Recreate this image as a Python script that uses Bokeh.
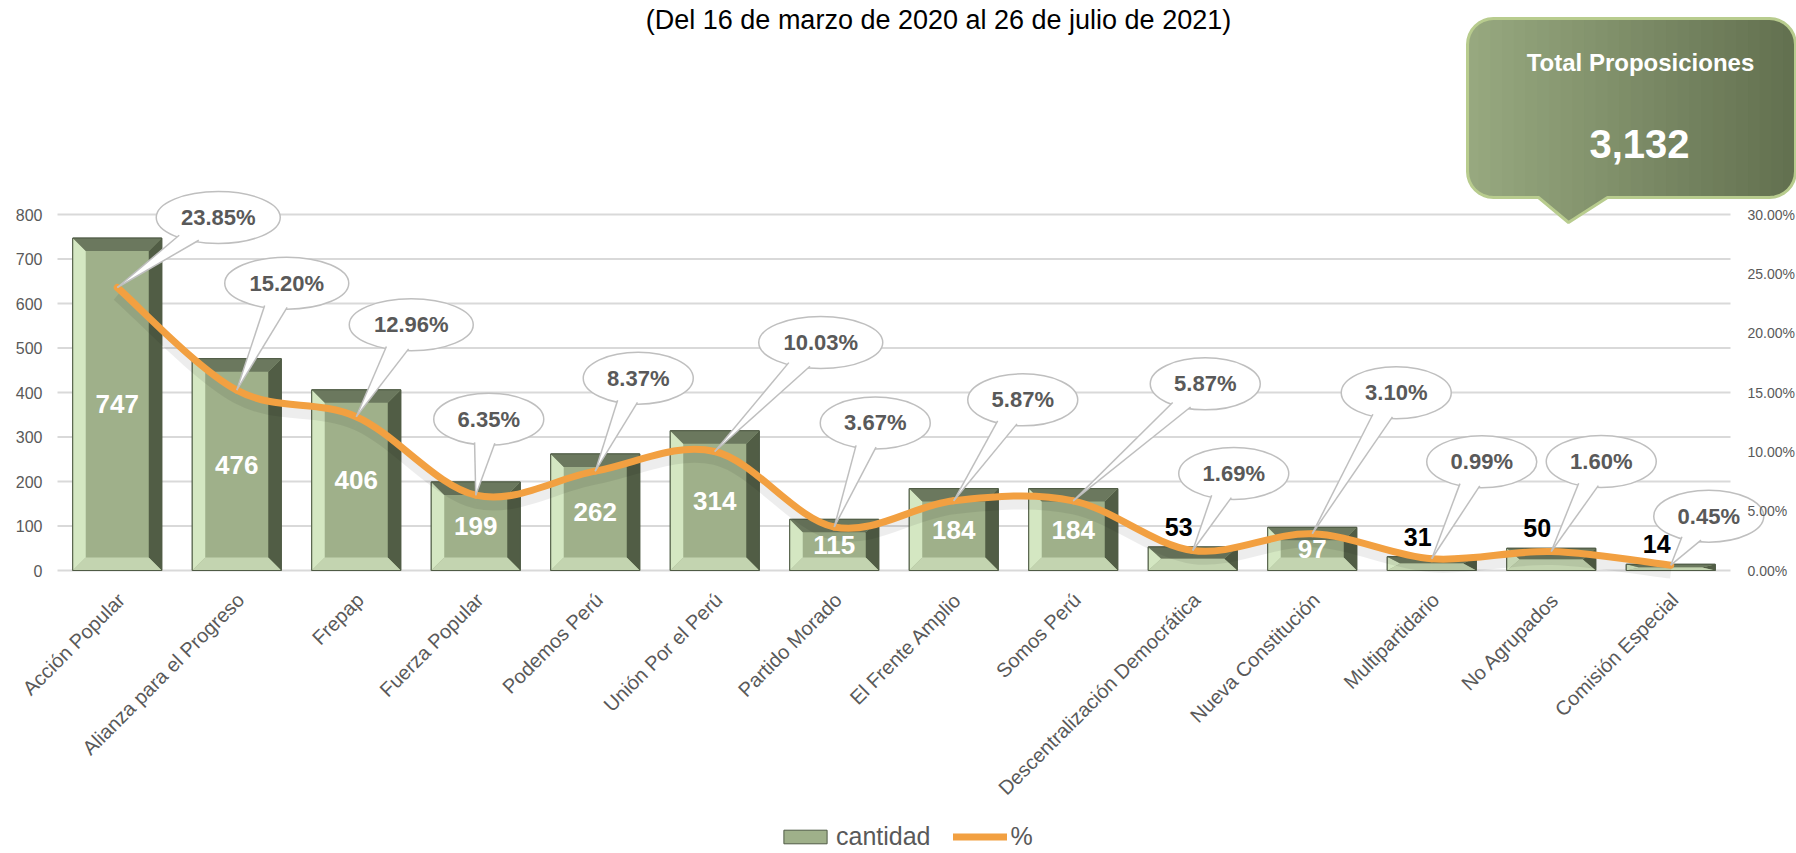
import math
from bokeh.plotting import figure
from bokeh.models import Range1d, Legend, LegendItem
from bokeh.core.properties import value
from bokeh.embed import file_html
from bokeh.resources import INLINE

# ---------------- data ----------------
categories = ["Acción Popular", "Alianza para el Progreso", "Frepap", "Fuerza Popular",
              "Podemos Perú", "Unión Por el Perú", "Partido Morado", "El Frente Amplio",
              "Somos Perú", "Descentralización Democrática", "Nueva Constitución",
              "Multipartidario", "No Agrupados", "Comisión Especial"]
cantidad = [747, 476, 406, 199, 262, 314, 115, 184, 184, 53, 97, 31, 50, 14]
porcentaje = [23.85, 15.20, 12.96, 6.35, 8.37, 10.03, 3.67, 5.87, 5.87, 1.69, 3.10, 0.99, 1.60, 0.45]
left_ticks = [0, 100, 200, 300, 400, 500, 600, 700, 800]
right_ticks = [0.0, 0.05, 0.10, 0.15, 0.20, 0.25, 0.30]
titulo = "(Del 16 de marzo de 2020 al 26 de julio de 2021)"
total_titulo = "Total Proposiciones"
total = sum(cantidad)

# ---------------- layout / style ----------------
callout_dx = [101, 50, 55, 13, 43, 106, 41, 69, 132, 41, 84, 50, 50, 38]   # px
callout_dy = [70, 107, 92, 76, 93, 109, 104, 101, 117, 77, 141, 97, 90, 49]  # px

FONT = "Liberation Sans"
GREY = "#595959"

W, H = 1796, 853
X0 = 57           # pixel column where the category axis starts
Y0 = 570          # pixel row of the zero line
n = len(categories)
px_x = 1673 / n
px_y = (Y0 - 214) / 800.0
k_pct = 0.30 / 800.0
px_pct = px_y / k_pct

def fx2d(fx):
    return -0.5 + (fx - X0) / px_x

def fy2d(fy):
    return (Y0 - fy) / px_y

p = figure(width=W, height=H, x_range=Range1d(fx2d(0), fx2d(W)),
           y_range=Range1d(fy2d(H), fy2d(0)),
           output_backend="svg", toolbar_location=None,
           x_axis_location=None, y_axis_location=None,
           min_border_left=0, min_border_right=0, min_border_bottom=0, min_border_top=0)
p.outline_line_color = None
p.background_fill_color = "white"
p.border_fill_color = "white"
p.extra_y_ranges = {"pct": Range1d(fy2d(H) * k_pct, fy2d(0) * k_pct)}
p.xgrid.grid_line_color = None
p.ygrid.grid_line_color = None

# gridlines over the category span
p.segment(x0=[-0.5] * len(left_ticks), x1=[n - 0.5] * len(left_ticks), y0=left_ticks,
          y1=left_ticks, line_color="#d9d9d9", line_width=2)

# primary scale labels
p.text(x=[fx2d(42)] * len(left_ticks), y=left_ticks, text=[str(t) for t in left_ticks],
       text_font=value(FONT), text_font_size="16px", text_color=GREY,
       text_align="right", text_baseline="middle")

# category labels (rotated)
p.text(x=list(range(n)), y=[0] * n, text=categories, angle=math.pi / 4,
       x_offset=4, y_offset=26, text_font=value(FONT), text_font_size="20px",
       text_color=GREY, text_align="right", text_baseline="middle")

# ---------------- bars with bevel ----------------
half = 0.745 / 2
bx = 13 / px_x
lefts = [i - half for i in range(n)]
rights = [i + half for i in range(n)]
bys = [min(13 / px_y, v / 2) for v in cantidad]

bars = p.quad(left=lefts, right=rights, bottom=0, top=cantidad,
              fill_color="#9fb08a", line_color="#4f5b45", line_width=1)

def bevel(kind):
    xs, ys = [], []
    for l, r, v, by in zip(lefts, rights, cantidad, bys):
        if kind == "left":
            xs.append([l, l, l + bx, l + bx]); ys.append([0, v, v - by, by])
        elif kind == "right":
            xs.append([r, r, r - bx, r - bx]); ys.append([0, v, v - by, by])
        elif kind == "top":
            xs.append([l, r, r - bx, l + bx]); ys.append([v, v, v - by, v - by])
        else:
            xs.append([l, r, r - bx, l + bx]); ys.append([0, 0, by, by])
    return xs, ys

for kind, col in [("left", "#d4e7c2"), ("right", "#515d45"), ("top", "#6b785e"),
                  ("bottom", "#c3d4b0")]:
    bxs, bys_ = bevel(kind)
    p.patches(xs=bxs, ys=bys_, fill_color=col, line_color=None)
p.quad(left=lefts, right=rights, bottom=0, top=cantidad, fill_color=None,
       line_color="#4f5b45", line_width=1)

# ---------------- smooth % line ----------------
pts = [(i, v / 100.0) for i, v in enumerate(porcentaje)]
x0, y0, x1, y1, cx0, cy0, cx1, cy1 = [], [], [], [], [], [], [], []
for i in range(n - 1):
    pa = pts[i - 1] if i > 0 else pts[i]
    pb = pts[i]
    pc = pts[i + 1]
    pd = pts[i + 2] if i + 2 < n else pts[i + 1]
    x0.append(pb[0]); y0.append(pb[1]); x1.append(pc[0]); y1.append(pc[1])
    cx0.append(pb[0] + (pc[0] - pa[0]) / 6); cy0.append(pb[1] + (pc[1] - pa[1]) / 6)
    cx1.append(pc[0] - (pd[0] - pb[0]) / 6); cy1.append(pc[1] - (pd[1] - pb[1]) / 6)

sh = 8 / px_pct
p.bezier(x0=x0, y0=[v - sh for v in y0], x1=x1, y1=[v - sh for v in y1],
         cx0=cx0, cy0=[v - sh for v in cy0], cx1=cx1, cy1=[v - sh for v in cy1],
         line_color="#000000", line_alpha=0.07, line_width=11, y_range_name="pct")
line = p.bezier(x0=x0, y0=y0, x1=x1, y1=y1, cx0=cx0, cy0=cy0, cx1=cx1, cy1=cy1,
                line_color="#f2a041", line_width=7, line_cap="round", y_range_name="pct")

# ---------------- bar value labels ----------------
inside = [i for i, v in enumerate(cantidad) if v >= 60]
outside = [i for i, v in enumerate(cantidad) if v < 60]
p.text(x=inside, y=[cantidad[i] / 2 for i in inside],
       text=[str(cantidad[i]) for i in inside], text_color="white",
       text_font=value(FONT), text_font_style="bold", text_font_size="26px",
       text_align="center", text_baseline="middle")
p.text(x=outside, y=[cantidad[i] for i in outside],
       text=[str(cantidad[i]) for i in outside], text_color="black",
       x_offset=-14, y_offset=-11,
       text_font=value(FONT), text_font_style="bold", text_font_size="25px",
       text_align="center", text_baseline="bottom")

# ---------------- callouts ----------------
plabels = [f"{v:.2f}%" for v in porcentaje]
BH = 52
ecx, ecy, ews, txs, tys, sx0, sy0, sx1, sy1 = [], [], [], [], [], [], [], [], []
for i in range(n):
    tx, ty = pts[i]
    dx, dy = callout_dx[i], callout_dy[i]
    bw = 40 + 14 * len(plabels[i])
    a, b = bw / 2, BH / 2
    cx, cy = tx + dx / px_x, ty + dy / px_pct
    ecx.append(cx); ecy.append(cy); ews.append(bw)
    th = math.atan2(-dy / b, -dx / a)
    tri_x, tri_y = [tx], [ty]
    for s in (-0.2, 0.2):
        bxp = cx + a * math.cos(th + s) * 0.93 / px_x
        byp = cy + b * math.sin(th + s) * 0.93 / px_pct
        tri_x.append(bxp); tri_y.append(byp)
        sx0.append(tx); sy0.append(ty); sx1.append(bxp); sy1.append(byp)
    txs.append(tri_x); tys.append(tri_y)

p.ellipse(x=ecx, y=ecy, width=ews, height=BH, width_units="screen", height_units="screen",
          fill_color="white", line_color="#bfbfbf", line_width=1.5, y_range_name="pct")
p.patches(xs=txs, ys=tys, fill_color="white", line_color=None, y_range_name="pct")
p.segment(x0=sx0, y0=sy0, x1=sx1, y1=sy1, line_color="#bfbfbf", line_width=1.5,
          y_range_name="pct")
p.text(x=ecx, y=ecy, text=plabels, text_color=GREY,
       text_font=value(FONT), text_font_style="bold", text_font_size="22px",
       text_align="center", text_baseline="middle", y_range_name="pct")

# secondary (percent) scale labels, drawn above the callouts
p.text(x=[fx2d(1747)] * len(right_ticks), y=right_ticks,
       text=[f"{t * 100:.2f}%" for t in right_ticks], y_range_name="pct",
       text_font=value(FONT), text_font_size="14px", text_color=GREY,
       text_align="left", text_baseline="middle")

# ---------------- title ----------------
p.text(x=[fx2d(938)], y=[fy2d(19)], text=[titulo], text_color="black",
       text_font=value(FONT), text_font_size="27px", text_align="center",
       text_baseline="alphabetic")

# ---------------- total box (horizontal gradient) ----------------
bl_, br_, bt_, bb_ = 1467, 1795, 18, 197
rr = 26
poly = []
def arc(cxp, cyp, a0, a1):
    for k in range(9):
        t = math.radians(a0 + (a1 - a0) * k / 8)
        poly.append((cxp + rr * math.cos(t), cyp - rr * math.sin(t)))
arc(bl_ + rr, bt_ + rr, 180, 90)
arc(br_ - rr, bt_ + rr, 90, 0)
arc(br_ - rr, bb_ - rr, 0, -90)
poly.append((1607, bb_)); poly.append((1568, 222)); poly.append((1538, bb_))
arc(bl_ + rr, bb_ - rr, -90, -180)

def clip_half(pg, inside_f, inter_f):
    out = []
    for j in range(len(pg)):
        cur, prev = pg[j], pg[j - 1]
        if inside_f(cur):
            if not inside_f(prev):
                out.append(inter_f(prev, cur))
            out.append(cur)
        elif inside_f(prev):
            out.append(inter_f(prev, cur))
    return out

def xcut(xc):
    def f(p1, p2):
        t = (xc - p1[0]) / (p2[0] - p1[0])
        return (xc, p1[1] + t * (p2[1] - p1[1]))
    return f

c_light = (0x98, 0xa9, 0x80)
c_dark = (0x62, 0x70, 0x4f)
NS = 28
sw = (br_ - bl_) / NS
strip_xs, strip_ys, strip_cols = [], [], []
for k in range(NS):
    xa_, xb_ = bl_ + k * sw - 0.6, bl_ + (k + 1) * sw + 0.6
    pg = clip_half(poly, lambda q: q[0] >= xa_, xcut(xa_))
    pg = clip_half(pg, lambda q: q[0] <= xb_, xcut(xb_))
    if len(pg) < 3:
        continue
    t = (k + 0.5) / NS
    col = "#%02x%02x%02x" % tuple(int(round(c_light[m] + (c_dark[m] - c_light[m]) * t))
                                  for m in range(3))
    strip_xs.append([fx2d(q[0]) for q in pg]); strip_ys.append([fy2d(q[1]) for q in pg])
    strip_cols.append(col)
p.patches(xs=strip_xs, ys=strip_ys, fill_color=strip_cols, line_color=None)
p.patch(x=[fx2d(q[0]) for q in poly], y=[fy2d(q[1]) for q in poly],
        fill_color=None, line_color="#b8cc8e", line_width=3)
p.text(x=[fx2d(1640)], y=[fy2d(62)], text=[total_titulo], text_color="white",
       text_font=value(FONT), text_font_size="24px", text_font_style="bold",
       text_align="center", text_baseline="middle")
p.text(x=[fx2d(1639)], y=[fy2d(143)], text=[f"{total:,}"], text_color="white",
       text_font=value(FONT), text_font_size="40px", text_font_style="bold",
       text_align="center", text_baseline="middle")

# ---------------- legend ----------------
legend = Legend(items=[LegendItem(label="cantidad", renderers=[bars]),
                       LegendItem(label="%", renderers=[line])],
                orientation="horizontal", location=(778, 2),
                border_line_color=None, background_fill_alpha=0,
                label_text_font=FONT, label_text_font_size="25px",
                label_text_color=GREY, glyph_width=54, glyph_height=17,
                spacing=22, label_standoff=4, padding=0, margin=0)
p.add_layout(legend, "center")

open("out.html", "w").write(file_html(p, INLINE))
